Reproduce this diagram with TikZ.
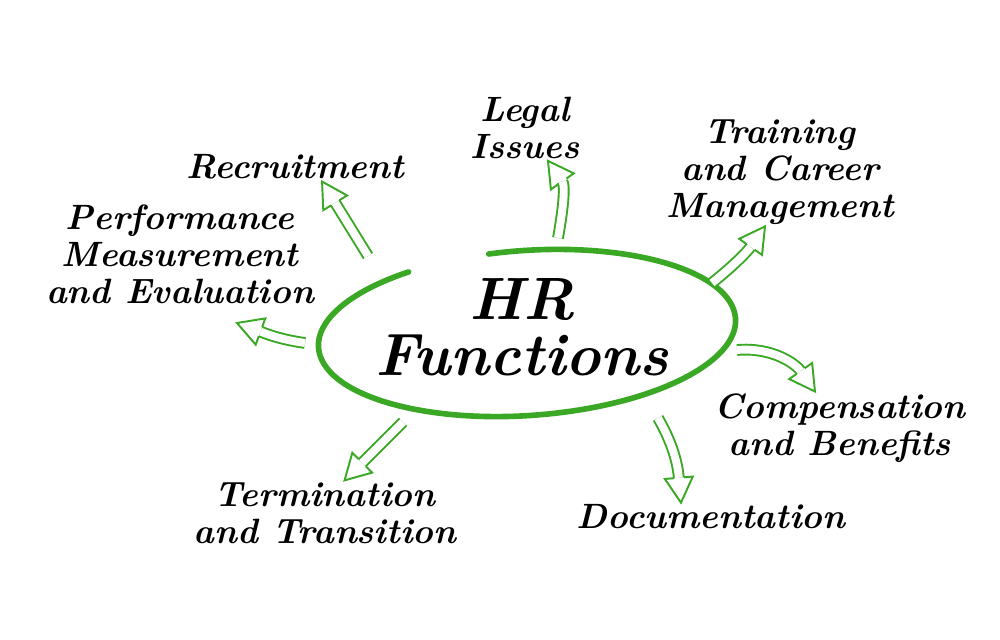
\documentclass[tikz,border=0pt]{standalone}
\usepackage{xcolor}
\usepackage{tikz}
\usetikzlibrary{calc}
\usetikzlibrary{decorations.markings}
\definecolor{hrgreen}{RGB}{58,168,36}
\tikzset{
	topic/.style={
			align=center, inner sep=1pt,
			font=\fontsize{20}{21}\selectfont\bfseries\itshape
		},
	hollow/.style={
			draw=hrgreen, line width=1.1pt, double=white, double distance=4.5pt,
			shorten >=5mm,
			postaction={decorate, decoration={markings, mark=at position 0.9999 with {
							\draw[hrgreen, line width=1.1pt, shorten >=0pt, line join=miter]
							(-0.5,0.1) -- (-0.5,0.28) -- (0,0) -- (-0.5,-0.28) -- (-0.5,-0.1);}}}
		}
}

\begin{document}
\begin{tikzpicture}
	\useasboundingbox (0,0) rectangle (20,-12.8);

	% the ring, open at the top left
	\draw[hrgreen, line width=3.2pt, line cap=round, rotate around={4:(10.54,-6.66)}]
		($(10.54,-6.66)+(99:4.18 and 1.65)$) arc[start angle=99, end angle=-237, x radius=4.18, y radius=1.65];

	\node[font=\fontsize{34}{32}\selectfont\bfseries\itshape, align=center] (hr) at (10.44,-6.54) {HR\\Functions};

	\node[topic] (legal) at (10.5,-2.56) {Legal\\Issues};
	\node[topic] (rec) at (5.9,-3.34) {Recruitment};
	\node[topic] (train) at (15.6,-3.44) {Training\\and Career\\Management};
	\node[topic] (perf) at (3.6,-5.08) {Performance\\Measurement\\and Evaluation};
	\node[topic] (comp) at (16.8,-8.56) {Compensation\\and Benefits};
	\node[topic] (doc) at (14.22,-10.34) {Documentation};
	\node[topic] (term) at (6.5,-10.26) {Termination\\and Transition};

	\coordinate (recT) at (7.36,-5.12);
	\coordinate (legalT) at (11.16,-4.76);
	\coordinate (trainT) at (14.24,-5.66);
	\coordinate (perfT) at (6.1,-6.86);
	\coordinate (compT) at (14.74,-7.0);
	\coordinate (docT) at (13.16,-8.36);
	\coordinate (termT) at (8.06,-8.44);

	\draw[hollow] (recT) -- ([xshift=5.4mm]rec.south);
	\draw[hollow] (legalT) to[out=80, in=-55] ([xshift=4.6mm]legal.south);
	\draw[hollow] (trainT) to[bend right=8] ([xshift=-3mm]train.south);
	\draw[hollow] (perfT) to[out=172, in=-20] (4.74,-6.46);
	\draw[hollow] (compT) to[out=5, in=125] ([xshift=-5mm]comp.north);
	\draw[hollow] (docT) to[out=-60, in=95] ([xshift=-6mm]doc.north);
	\draw[hollow] (termT) -- ([xshift=3.9mm]term.north);
\end{tikzpicture}
\end{document}
